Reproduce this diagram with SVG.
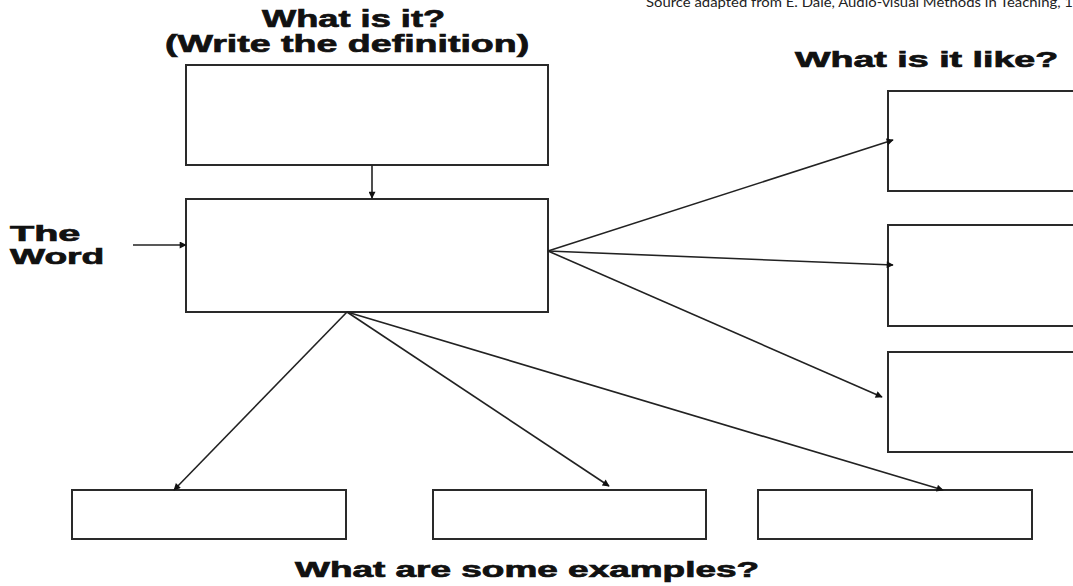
<svg xmlns="http://www.w3.org/2000/svg" width="1073" height="586" viewBox="0 0 1073 586">
  <style>
    .box { fill: #ffffff; stroke: #2a2a2a; stroke-width: 2; }
    .link { fill: none; stroke: #222222; stroke-width: 1.6; }
    .head { font-family: "Liberation Sans", Arial, sans-serif; font-weight: bold; fill: #111111; stroke: #111111; stroke-width: 0.7; }
    .note { font-family: Lato, "Liberation Sans", sans-serif; fill: #222222; }
  </style>
  <defs>
    <marker id="arrow" viewBox="0 0 10 10" refX="9" refY="5" markerWidth="9" markerHeight="7" markerUnits="userSpaceOnUse" orient="auto">
      <path d="M0,0 L10,5 L0,10 z" fill="#111111"/>
    </marker>
  </defs>
  <rect width="1073" height="586" fill="#ffffff"/>

  <!-- source credit, running off the top edge -->
  <text class="note" x="646" y="7" font-size="14" textLength="427" lengthAdjust="spacingAndGlyphs">Source adapted from E. Dale, Audio-visual Methods in Teaching, 1</text>

  <!-- headings (wide letterforms: bold sans stretched horizontally) -->
  <text class="head" font-size="24" transform="translate(262,27) scale(1.51,1)">What is it?</text>
  <text class="head" font-size="24" transform="translate(165,52) scale(1.565,1)">(Write the definition)</text>
  <text class="head" font-size="22" transform="translate(795,67) scale(1.71,1)">What is it like?</text>
  <text class="head" font-size="22" transform="translate(295,577) scale(1.68,1)">What are some examples?</text>

  <!-- definition -->
  <g id="definition">
    <rect class="box" x="186" y="65" width="362" height="100"/>
  </g>

  <!-- the word -->
  <g id="word">
    <rect class="box" x="186" y="199" width="362" height="113"/>
    <text class="head" font-size="22" transform="translate(10,241) scale(1.8,1)">The</text>
    <text class="head" font-size="22" transform="translate(10,264) scale(1.69,1)">Word</text>
  </g>

  <!-- what it is like -->
  <g id="like-1"><rect class="box" x="888" y="91" width="200" height="100"/></g>
  <g id="like-2"><rect class="box" x="888" y="225" width="200" height="101"/></g>
  <g id="like-3"><rect class="box" x="888" y="352" width="200" height="100"/></g>

  <!-- examples -->
  <g id="example-1"><rect class="box" x="72" y="490" width="274" height="49"/></g>
  <g id="example-2"><rect class="box" x="433" y="490" width="273" height="49"/></g>
  <g id="example-3"><rect class="box" x="758" y="490" width="274" height="49"/></g>

  <!-- connectors, drawn over the boxes so the heads stay visible -->
  <g id="connectors">
    <line class="link" x1="372" y1="165" x2="372" y2="198" marker-end="url(#arrow)"/>
    <line class="link" x1="133" y1="245" x2="186" y2="245" marker-end="url(#arrow)"/>
    <line class="link" x1="548" y1="251" x2="893" y2="140" marker-end="url(#arrow)"/>
    <line class="link" x1="548" y1="251" x2="893" y2="265" marker-end="url(#arrow)"/>
    <line class="link" x1="548" y1="251" x2="882" y2="397" marker-end="url(#arrow)"/>
    <line class="link" x1="347" y1="312" x2="174" y2="490" marker-end="url(#arrow)"/>
    <line class="link" x1="347" y1="312" x2="609" y2="486" marker-end="url(#arrow)"/>
    <line class="link" x1="347" y1="312" x2="943" y2="490" marker-end="url(#arrow)"/>
  </g>
</svg>
